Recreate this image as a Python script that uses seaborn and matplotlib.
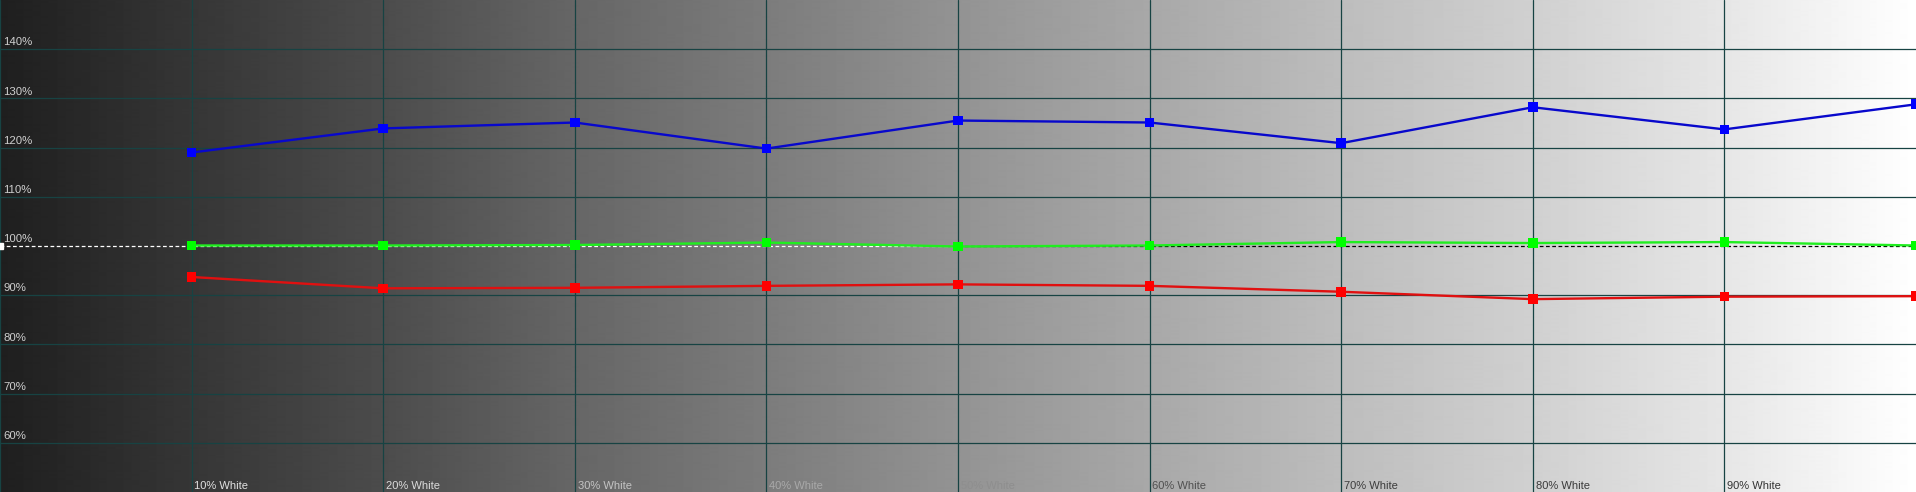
import numpy as np
import pandas as pd
import matplotlib
matplotlib.use("Agg")
import matplotlib.pyplot as plt
import seaborn as sns

# stimulus levels (% white) and RGB balance readings (%)
levels = [10, 20, 30, 40, 50, 60, 70, 80, 90, 100]
red = [93.7, 91.4, 91.5, 91.9, 92.2, 91.9, 90.7, 89.2, 89.7, 89.8]
green = [100.1, 100.1, 100.2, 100.7, 99.9, 100.1, 100.8, 100.6, 100.8, 100.1]
blue = [119.0, 123.9, 125.1, 119.8, 125.5, 125.1, 120.9, 128.2, 123.7, 128.8]

y_ticks = [60, 70, 80, 90, 100, 110, 120, 130, 140]
x_labels = ["10% White", "20% White", "30% White", "40% White", "50% White",
            "60% White", "70% White", "80% White", "90% White"]
x_label_colors = ["#e2e2e2", "#dcdcdc", "#c4c4c4", "#a9a9a9", "#8e8e8e",
                  "#505050", "#3c3c3c", "#3a3a3a", "#333333"]

df = pd.DataFrame({
    "level": levels * 3,
    "value": red + green + blue,
    "channel": ["R"] * 10 + ["G"] * 10 + ["B"] * 10,
})

sns.set_theme(style="white")
plt.rcParams["font.family"] = ["Liberation Sans", "DejaVu Sans"]

fig = plt.figure(figsize=(19.16, 4.92), dpi=100)
ax = fig.add_axes([0, 0, 1, 1])

# grey ramp background
stops = [0x1f, 0x36, 0x4c, 0x66, 0x7c, 0x93, 0xa8, 0xbd, 0xd0, 0xe6, 0xff]
xs = np.linspace(0, 100, 1916)
ramp = np.interp(xs, np.arange(0, 101, 10), stops) / 255.0
ax.imshow(ramp[np.newaxis, :], cmap="gray", vmin=0, vmax=1, aspect="auto",
          extent=[0, 100, 50, 150], zorder=0, interpolation="bilinear")

grid_c = "#174343"
for v in y_ticks:
    if v != 100:
        ax.axhline(v, color=grid_c, lw=0.9, zorder=1)
for x in range(0, 100, 10):
    ax.axvline(x, color=grid_c, lw=0.9, zorder=1)

# reference line at 100%
ax.plot([0, 50], [100, 100], color="white", lw=0.9, ls=(0, (3, 2)), zorder=2)
ax.plot([50, 100], [100, 100], color="black", lw=0.9, ls=(0, (3, 2)), zorder=2)
ax.plot([0], [100], marker="s", color="white", ms=5, zorder=3)

line_pal = {"R": "#e01010", "G": "#20ee20", "B": "#0808cc"}
mark_pal = {"R": "#ff0000", "G": "#00ff00", "B": "#0000ff"}
sns.lineplot(data=df, x="level", y="value", hue="channel", palette=line_pal,
             linewidth=1.7, legend=False, ax=ax, zorder=4)
sns.scatterplot(data=df, x="level", y="value", hue="channel", palette=mark_pal,
                marker="s", s=48, linewidth=0, legend=False, ax=ax, zorder=5,
                clip_on=True)

for v in y_ticks:
    ax.text(0.17, v + 0.35, f"{v}%", color="#cfcfcf", fontsize=8.2,
            ha="left", va="bottom", zorder=6)
for x, lab, c in zip(levels[:-1], x_labels, x_label_colors):
    ax.text(x + 0.15, 50.2, lab, color=c, fontsize=8.0,
            ha="left", va="bottom", zorder=6)

ax.set_xlim(0, 100)
ax.set_ylim(50, 150)
ax.set_xticks([])
ax.set_yticks([])
ax.set_xlabel("")
ax.set_ylabel("")
for s in ax.spines.values():
    s.set_visible(False)

fig.savefig("out.png", dpi=100)
